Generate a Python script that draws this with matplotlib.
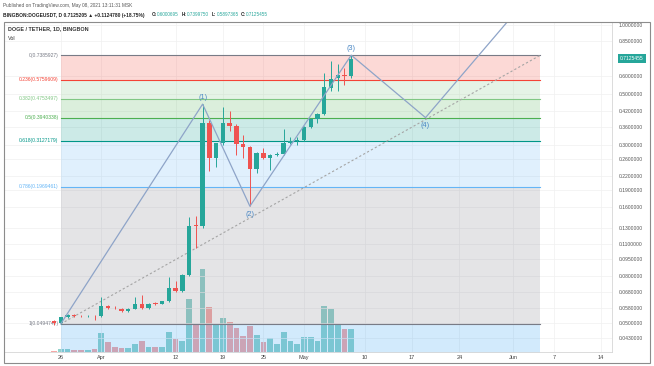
import matplotlib
matplotlib.use("Agg")
import matplotlib.pyplot as plt
import matplotlib.dates as mdates
import matplotlib.transforms as mtransforms
from matplotlib.patches import Rectangle
import pandas as pd

plt.rcParams['font.family'] = ['Liberation Sans', 'DejaVu Sans']

# ----------- Daily candles, BINGBON DOGE/USDT -----------
dates = pd.date_range("2021-03-25", "2021-05-08", freq="D")
opens = [0.0512, 0.0497, 0.0531, 0.0541, 0.0536, 0.0535, 0.0538,
         0.0534, 0.0593, 0.0583, 0.0576, 0.0565, 0.0575, 0.0605, 0.0578, 0.0608, 0.0606,
         0.0622, 0.0711, 0.0689, 0.0810, 0.1339, 0.1325, 0.3733, 0.2626, 0.3055, 0.3733,
         0.3622, 0.3022, 0.2933, 0.2352, 0.2761, 0.2626, 0.2707, 0.2734, 0.3055, 0.3115,
         0.3148, 0.3586, 0.3888, 0.4086, 0.5309, 0.5871, 0.6049, 0.6000695]
highs = [0.0515, 0.0533, 0.0545, 0.0545, 0.0540, 0.0539, 0.0542,
         0.0649, 0.0600, 0.0590, 0.0580, 0.0580, 0.0649, 0.0662, 0.0612, 0.0618, 0.0626,
         0.0794, 0.0762, 0.0815, 0.1451, 0.1465, 0.4513, 0.3846, 0.3055, 0.4385, 0.4210,
         0.3680, 0.3311, 0.2960, 0.2800, 0.2904, 0.2730, 0.2790, 0.3514, 0.3243, 0.3243,
         0.3620, 0.3930, 0.4130, 0.6172, 0.6966, 0.6757, 0.6486, 0.7399750]
lows = [0.0490, 0.0494747, 0.0527, 0.0532, 0.0530, 0.0531, 0.0515,
        0.0530, 0.0577, 0.0573, 0.0558, 0.0560, 0.0572, 0.0572, 0.0575, 0.0598, 0.0602,
        0.0615, 0.0684, 0.0684, 0.0800, 0.1062, 0.1300, 0.2303, 0.2399, 0.3000, 0.3443,
        0.2707, 0.2626, 0.1616, 0.2259, 0.2610, 0.2328, 0.2680, 0.2700, 0.3020, 0.2990,
        0.3120, 0.3550, 0.3733, 0.4030, 0.5150, 0.5150, 0.5470, 0.5897365]
closes = [0.0497, 0.0531, 0.0541, 0.0536, 0.0535, 0.0536, 0.0534,
          0.0593, 0.0583, 0.0578, 0.0565, 0.0575, 0.0605, 0.0578, 0.0605, 0.0603, 0.0622,
          0.0711, 0.0689, 0.0810, 0.1325, 0.1320, 0.3733, 0.2626, 0.3055, 0.3733, 0.3622,
          0.3022, 0.2933, 0.2352, 0.2761, 0.2626, 0.2707, 0.2734, 0.3055, 0.3115, 0.3148,
          0.3586, 0.3888, 0.4086, 0.5358, 0.5808, 0.6049, 0.6000695, 0.7125455]
# volume, relative units
volume = [1, 3, 3, 2, 2, 2, 3,
          19, 10, 5, 4, 4, 8, 11, 5, 5, 5,
          20, 13, 11, 53, 28, 83, 45, 28, 34, 30,
          24, 16, 26, 17, 10, 14, 8, 20, 11, 8,
          15, 15, 11, 46, 43, 28, 23, 23]

# ----------- Fibonacci retracement -----------
fib_ratios = [0, 0.236, 0.382, 0.5, 0.618, 0.786, 1]
fib_labels = ["0(0.7385927)", "0.236(0.5759609)", "0.382(0.4753497)", "0.5(0.3940338)",
              "0.618(0.3127179)", "0.786(0.1969461)", "1(0.0494747)"]
fib_high = 0.7385927
fib_low = 0.0494747
fib_start = "2021-03-26"
fib_end = "2021-06-05"

# ----------- Wave count (1)-(4) -----------
wave_dates = ["2021-03-26", "2021-04-16", "2021-04-23", "2021-05-08", "2021-05-19", "2021-06-03"]
wave_prices = [0.0494747, 0.4513, 0.1616, 0.7385927, 0.3940338, 1.30]
wave_names = ["", "(1)", "(2)", "(3)", "(4)", ""]

price_ticks = [1.0, 0.85, 0.6, 0.5, 0.42, 0.36, 0.30, 0.26, 0.22, 0.19, 0.16,
               0.13, 0.11, 0.095, 0.08, 0.068, 0.058, 0.05, 0.043]
time_ticks = ["2021-03-26", "2021-04-01", "2021-04-12", "2021-04-19", "2021-04-25", "2021-05-01",
              "2021-05-10", "2021-05-17", "2021-05-24", "2021-06-01", "2021-06-07", "2021-06-14"]
time_labels = ["26", "Apr", "12", "19", "25", "May", "10", "17", "24", "Jun", "7", "14"]
last_price = 0.7125455

UP = "#26a69a"
DOWN = "#ef5350"
W, H = 654, 366


def fx(px):
    return px / W


def fy(py):
    return 1 - py / H


fig = plt.figure(figsize=(W / 100, H / 100), dpi=100)
ax_vol = fig.add_axes([fx(4), fy(352), (612 - 4) / W, (352 - 22) / H])
ax = fig.add_axes([fx(4), fy(352), (612 - 4) / W, (352 - 22) / H], sharex=ax_vol)
ax_vol.axis("off")
ax.patch.set_visible(False)

x0 = mdates.date2num(pd.Timestamp("2021-05-01"))
ax.set_xlim(x0 - 44.4, x0 + 45.6)
ax.set_yscale("log")
ax.set_ylim(0.0373, 1.031)

# grid
for t in time_ticks:
    ax.axvline(pd.Timestamp(t), color="#f0f0f0", lw=0.5, zorder=0)
for p in price_ticks:
    ax.axhline(p, color="#f0f0f0", lw=0.5, zorder=0)

# volume
vol_colors = [UP if c >= o else DOWN for o, c in zip(opens, closes)]
ax_vol.bar(dates, volume, width=0.85, color=vol_colors, alpha=0.5, lw=0)
ax_vol.set_ylim(0, 330)

# fib zones and levels
fib_prices = [fib_high - r * (fib_high - fib_low) for r in fib_ratios]
fib_colors = ["#787b86", "#f44336", "#81c784", "#4caf50", "#009688", "#64b5f6", "#787b86"]
fs, fe = pd.Timestamp(fib_start), pd.Timestamp(fib_end)
for i in range(1, len(fib_prices)):
    ax.fill_between([fs, fe], fib_prices[i - 1], fib_prices[i], color=fib_colors[i],
                    alpha=0.2, lw=0, zorder=1)
ax.fill_between([fs, fe], fib_prices[-1], 0.03, color="#2196f3", alpha=0.2, lw=0, zorder=1)
for p, c, lab in zip(fib_prices, fib_colors, fib_labels):
    ax.plot([fs, fe], [p, p], color=c, lw=0.8, zorder=2)
    ax.text(fs - pd.Timedelta(hours=8), p, lab, color=c, fontsize=3.6,
            ha="right", va="center", zorder=2)
ax.plot([fs, fe], [fib_low, fib_high], color="#a5a5a5", lw=0.8,
        linestyle=(0, (2, 2)), zorder=2)

# candles
colors = [UP if c >= o else DOWN for o, c in zip(opens, closes)]
ax.vlines(dates, lows, highs, color=colors, lw=0.7, zorder=3)
bottoms = [min(o, c) for o, c in zip(opens, closes)]
heights = [max(abs(c - o), b * 0.006) for o, c, b in zip(opens, closes, bottoms)]
ax.bar(dates, heights, bottom=bottoms, width=0.65, color=colors, lw=0, zorder=3)

# wave lines + labels
wd = [pd.Timestamp(d) for d in wave_dates]
ax.plot(wd, wave_prices, color="#8ea4c8", lw=0.9, zorder=4)
for i, (d, p, name) in enumerate(zip(wd, wave_prices, wave_names)):
    if not name:
        continue
    above = i % 2 == 1
    ax.annotate(name, (d, p), xytext=(0, 5 if above else -6), textcoords="offset points",
                ha="center", va="center", fontsize=5.2, color="#4a87c4", zorder=5)

# axes styling
for s in ["top", "left"]:
    ax.spines[s].set_visible(False)
for s in ["bottom", "right"]:
    ax.spines[s].set_color("#d6d6d6")
    ax.spines[s].set_linewidth(0.6)

ax.yaxis.tick_right()
ax.set_yticks(price_ticks)
ax.set_yticklabels([f"{p:.7f}" for p in price_ticks])
ax.yaxis.set_minor_locator(matplotlib.ticker.NullLocator())
ax.tick_params(axis="y", length=0, pad=5, labelsize=3.6, labelcolor="#555555")
ax.set_xticks([pd.Timestamp(t) for t in time_ticks])
ax.set_xticklabels(time_labels)
ax.tick_params(axis="x", length=0, pad=2.5, labelsize=4, labelcolor="#444444")

# last price tag
trans = mtransforms.blended_transform_factory(ax.transAxes, ax.transData)
ax.text(1 + 20 / 608, last_price, f"{last_price:.7f}", transform=trans, ha="center", va="center",
        fontsize=3.6, color="white", zorder=6,
        bbox=dict(boxstyle="square,pad=0.35", fc=UP, ec="none"))

# outer frame + header
fig.patches.append(Rectangle((fx(4), fy(363)), (650 - 4) / W, (363 - 22) / H,
                             transform=fig.transFigure, fill=False, ec="#8c8c8c", lw=0.8))
fig.text(fx(3), fy(6), "Published on TradingView.com, May 08, 2021 13:11:31 MSK",
         fontsize=3.4, color="#555555", va="center")
fig.text(fx(3), fy(15), "BINGBON:DOGEUSDT, D 0.7125205 \u25b2 +0.1124780 (+18.75%)",
         fontsize=3.5, color="#222222", weight="bold", va="center")
for px, key, val in [(152, "O:", "0.6000695"), (182, "H:", "0.7399750"),
                     (212, "L:", "0.5897365"), (241, "C:", "0.7125455")]:
    fig.text(fx(px), fy(15), key, fontsize=3.3, color="#222222", weight="bold", va="center")
    fig.text(fx(px + 5), fy(15), val, fontsize=3.3, color=UP, va="center")
fig.text(fx(8), fy(29), "DOGE / TETHER, 1D, BINGBON", fontsize=3.9, color="#333333",
         weight="bold", va="center")
fig.text(fx(8), fy(38), "Vol", fontsize=3.9, color="#333333", va="center")

fig.savefig("out.png", dpi=100)
